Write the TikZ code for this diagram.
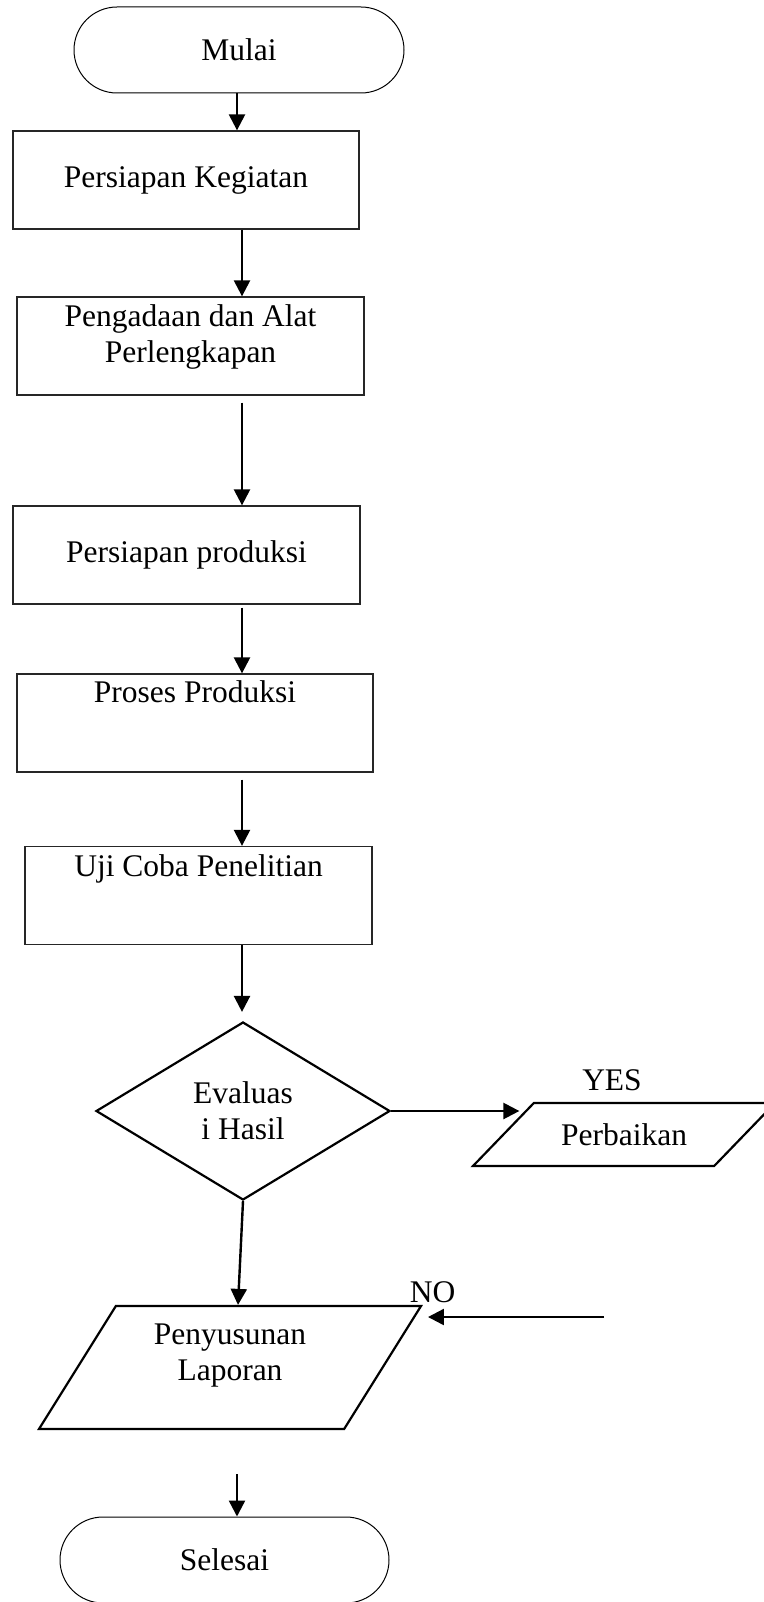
\documentclass[tikz,border=0pt]{standalone}
\usepackage{fontspec}
\setmainfont{Liberation Serif}
\usetikzlibrary{shapes.geometric,shapes.misc,arrows.meta}

\begin{document}
\begin{tikzpicture}[
  x=1pt,
  y=-1pt,
  font=\fontsize{31.5}{36}\selectfont,
  term/.style={
    rounded rectangle,
    draw,
    line width=1pt,
    minimum width=330pt,
    minimum height=86pt,
    inner sep=0pt
  },
  proc/.style={
    rectangle,
    draw=black!85,
    line width=1.3pt,
    minimum height=98pt,
    inner sep=0pt
  },
  txt/.style={align=center, inner sep=0pt},
  io/.style={
    trapezium,
    draw,
    line width=2.2pt,
    trapezium stretches body,
    inner sep=0pt
  },
  decide/.style={
    diamond,
    draw,
    line width=2.2pt,
    aspect=1.65,
    inner sep=0pt,
    align=center,
    minimum width=294pt,
    minimum height=178pt
  },
  arr/.style={line width=2.4pt, -{Triangle[length=16pt,width=16pt]}}
]
\useasboundingbox (0,0) rectangle (763,1602);
\coordinate (ax) at (242,0);
\coordinate (bx) at (237,0);
\coordinate (noin) at (604,1317);

\node[term] (mulai) at (239,50) {Mulai};
\node[proc, minimum width=346pt] (keg) at (186,180) {Persiapan Kegiatan};
\node[proc, minimum width=347pt] (alat) at (190.5,346) {};
\node[txt, anchor=north] (alattxt) at ([yshift=-8.5pt]alat.north) {Pengadaan dan Alat\\Perlengkapan};
\node[proc, minimum width=347pt] (prod) at (186.5,555) {Persiapan produksi};
\node[proc, minimum width=356pt] (proses) at (195,723) {};
\node[txt, anchor=north] (prosestxt) at ([yshift=-7.5pt]proses.north) {Proses Produksi};
\node[proc, minimum width=347pt] (uji) at (198.5,895.5) {};
\node[txt, anchor=north] (ujitxt) at ([yshift=-8.5pt]uji.north) {Uji Coba Penelitian};
\node[decide] (eval) at (243,1111) {Evaluas\\i Hasil};
\node[io, trapezium left angle=46, trapezium right angle=134,
  text height=42pt, text depth=21pt, minimum width=302pt] (perb) at (624,1134.5) {Perbaikan};
\node (yes) at (612,1080) {YES};
\node[io, trapezium left angle=58, trapezium right angle=122,
  text height=61.5pt, text depth=61.5pt, minimum width=382pt] (lapor) at (230,1367.5) {};
\node[txt, anchor=north] (laportxt) at ([yshift=-18.5pt]lapor.north) {Penyusunan\\Laporan};
\node (no) at (432.5,1292) {NO};
\node[term, minimum width=329pt] (selesai) at (224.5,1560) {Selesai};

\draw[arr] (mulai.south -| bx) -- (keg.north -| bx);
\draw[arr] (keg.south -| ax) -- (alat.north -| ax);
\draw[arr, shorten <=7pt] (alat.south -| ax) -- (prod.north -| ax);
\draw[arr, shorten <=3pt] (prod.south -| ax) -- (proses.north -| ax);
\draw[arr, shorten <=7pt] (proses.south -| ax) -- (uji.north -| ax);
\draw[arr, shorten >=9pt] (uji.south -| ax) -- (eval.north -| ax);
\draw[arr, shorten >=14pt] (eval.east) -- (eval.east -| perb.top left corner);
\draw[arr] (eval.south) -- ([xshift=8pt]lapor.north);
\draw[arr, shorten >=5pt] (noin) -- (noin -| lapor.top right corner);
\draw[arr, shorten <=44pt] (lapor.south -| bx) -- (selesai.north -| bx);
\end{tikzpicture}
\end{document}
